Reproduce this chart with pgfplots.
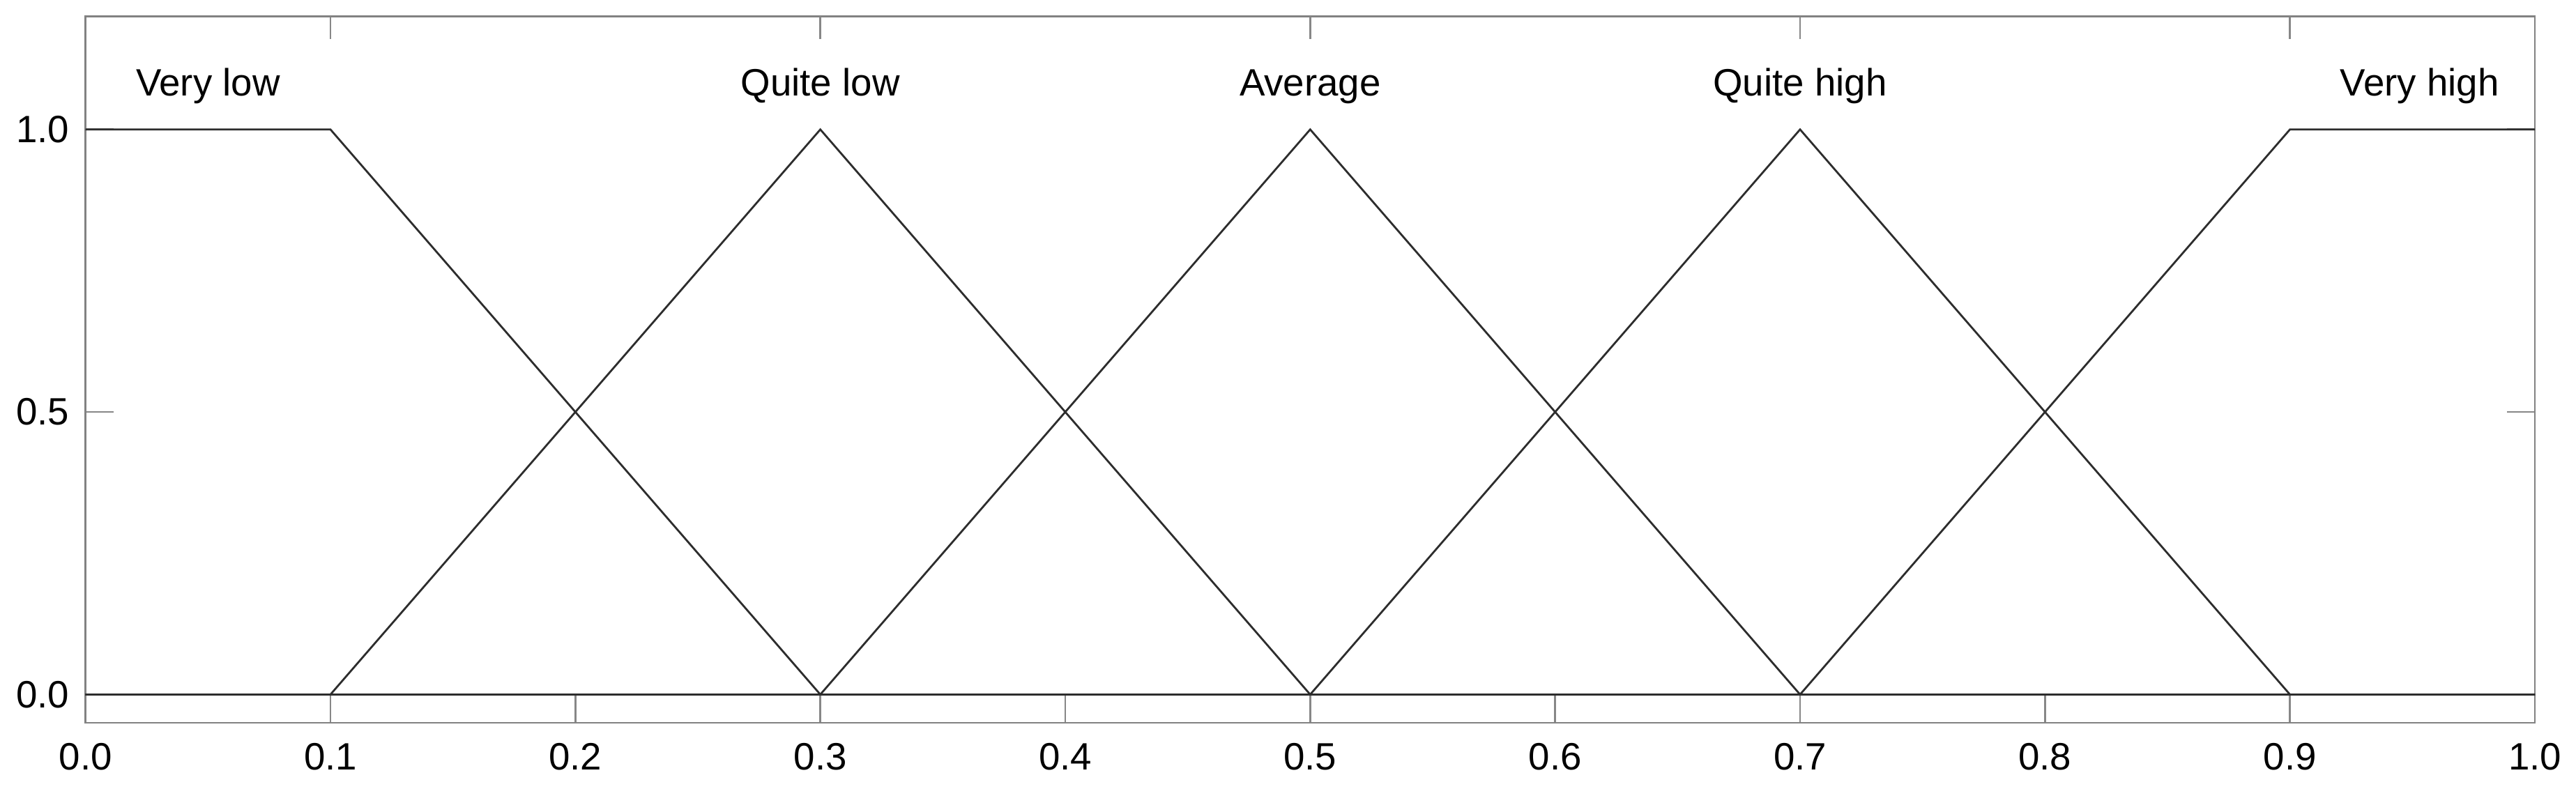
\documentclass[border=0pt]{standalone}
\usepackage{fontspec}
\setmainfont{Liberation Sans}
\usepackage{pgfplots}
\pgfplotsset{compat=1.18}
\definecolor{frame}{RGB}{130,130,130}
\definecolor{tickc}{RGB}{135,135,135}
\definecolor{linec}{RGB}{45,45,45}
\begin{document}
\begin{tikzpicture}[font=\fontsize{8.2pt}{9.8pt}\selectfont]
\begin{axis}[
  scale only axis,
  width=527pt, height=152pt,
  xmin=0, xmax=1, ymin=-0.05, ymax=1.2,
  xtick={0,0.1,...,1.0},
  ytick={0,0.5,1},
  xtick pos=bottom,
  ytick pos=both,
  tick align=inside,
  major tick length=6.0pt,
  axis line style={frame, line width=0.4pt},
  every tick/.style={tickc, line width=0.4pt},
  /pgf/number format/assume math mode=true,
  /pgf/number format/.cd, fixed, fixed zerofill, precision=1, /pgfplots/.cd,
  ticklabel style={font=\fontsize{8.2pt}{9.8pt}\selectfont, text=black},
  xticklabel style={yshift=-0.8pt},
  clip=false,
]
\addplot[linec, line width=0.42pt] coordinates {(0,1) (0.1,1) (0.3,0) (1,0)};
\addplot[linec, line width=0.42pt] coordinates {(0,0) (0.1,0) (0.3,1) (0.5,0) (1,0)};
\addplot[linec, line width=0.42pt] coordinates {(0,0) (0.3,0) (0.5,1) (0.7,0) (1,0)};
\addplot[linec, line width=0.42pt] coordinates {(0,0) (0.5,0) (0.7,1) (0.9,0) (1,0)};
\addplot[linec, line width=0.42pt] coordinates {(0,0) (0.7,0) (0.9,1) (1,1)};
\foreach \t in {0.1,0.3,0.5,0.7,0.9} {
  \edef\temp{\noexpand\draw[tickc, line width=0.4pt] (axis cs:\t,1.2) -- (axis cs:\t,1.16);}
  \temp
}
\node[anchor=base] at (axis cs:0.05,1.06) {Very low};
\node[anchor=base] at (axis cs:0.3,1.06) {Quite low};
\node[anchor=base] at (axis cs:0.5,1.06) {Average};
\node[anchor=base] at (axis cs:0.7,1.06) {Quite high};
\node[anchor=base] at (axis cs:0.953,1.06) {Very high};
\end{axis}
\pgfresetboundingbox
\path ([xshift=-18.4pt, yshift=-14.25pt]current axis.south west) rectangle ([xshift=8.85pt, yshift=3.54pt]current axis.north east);
\end{tikzpicture}
\end{document}
